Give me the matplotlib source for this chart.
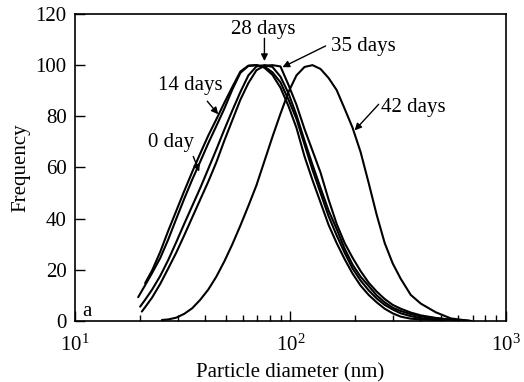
import matplotlib
matplotlib.use("Agg")
import matplotlib.pyplot as plt

plt.rcParams['font.family'] = ['Liberation Serif', 'DejaVu Serif']
plt.rcParams['mathtext.fontset'] = 'custom'
plt.rcParams['mathtext.rm'] = 'Liberation Serif'
plt.rcParams['mathtext.it'] = 'Liberation Serif:italic'

# ---- data ----
d0_x = [19.64, 21.16, 22.81, 24.86, 27.07, 29.50, 32.14, 35.01, 38.14, 41.56,
        45.27, 49.32, 53.74, 58.55, 63.78, 69.49, 75.71, 82.48, 89.85, 97.88,
        106.6, 116.2, 126.6, 137.9, 150.2, 163.7, 178.3, 194.2, 211.6, 230.5,
        251.2, 273.6, 298.1, 324.8, 361.5, 402.4, 472.5, 526.0]
d0_y = [9.3, 14.0, 18.8, 24.6, 31.8, 39.9, 47.8, 55.3, 62.3, 69.5,
        76.2, 83.0, 90.5, 97.0, 99.7, 100, 99.0, 96.2, 91.2, 84.0,
        75.5, 64.3, 55.0, 46.3, 37.6, 30.5, 24.2, 18.5, 13.8, 10.2,
        7.3, 4.8, 3.0, 1.7, 0.9, 0.6, 0.4, 0.3]

d14_x = [21.16, 22.81, 24.86, 27.07, 29.50, 32.14, 35.01, 38.14, 41.56,
         45.27, 49.32, 53.74, 58.55, 63.78, 69.49, 75.71, 82.48, 89.85, 97.88,
         106.6, 116.2, 126.6, 137.9, 150.2, 163.7, 178.3, 194.2, 211.6, 230.5,
         251.2, 273.6, 298.1, 324.8, 361.5, 402.4, 472.5, 526.0]
d14_y = [14.8, 19.8, 27.0, 35.2, 43.0, 50.8, 58.3, 65.5, 72.5,
         78.8, 85.3, 91.5, 97.5, 99.8, 100, 99.5, 97.2, 93.3, 86.5,
         79.0, 69.0, 59.0, 50.0, 41.0, 33.5, 26.7, 20.5, 15.8, 12.0,
         8.8, 6.3, 4.5, 3.0, 1.9, 1.1, 0.7, 0.5]

d28_x = [20.06, 21.16, 22.81, 24.86, 27.07, 29.50, 32.14, 35.01, 38.14, 41.56,
         45.27, 49.32, 53.74, 58.55, 63.78, 69.49, 75.71, 82.48, 89.85, 97.88,
         106.6, 116.2, 126.6, 137.9, 150.2, 163.7, 178.3, 194.2, 211.6, 230.5,
         251.2, 273.6, 298.1, 324.8, 361.5, 402.4, 472.5, 554.9, 687.4]
d28_y = [5.6, 8.3, 12.3, 17.6, 23.8, 30.8, 38.0, 45.0, 52.0, 59.5,
         67.0, 74.8, 82.3, 89.5, 96.0, 99.5, 100, 99.3, 95.5, 89.0,
         80.5, 70.5, 61.0, 52.0, 43.2, 36.0, 28.3, 22.0, 17.3, 13.7,
         10.0, 7.3, 5.2, 3.9, 2.7, 1.8, 1.1, 0.5, 0.0]

d35_x = [20.43, 21.16, 22.81, 24.86, 27.07, 29.50, 32.14, 35.01, 38.14, 41.56,
         45.27, 49.32, 53.74, 58.55, 63.78, 69.49, 75.71, 82.48, 89.85, 97.88,
         106.6, 116.2, 126.6, 137.9, 150.2, 163.7, 178.3, 194.2, 211.6, 230.5,
         251.2, 273.6, 298.1, 324.8, 361.5, 402.4, 472.5, 554.9, 687.4]
d35_y = [3.7, 5.4, 9.2, 14.5, 20.5, 26.7, 33.5, 40.5, 47.5, 54.5,
         62.0, 70.5, 78.5, 86.5, 93.0, 98.0, 99.8, 100, 99.5, 92.3,
         84.5, 75.0, 66.5, 58.0, 47.5, 38.0, 30.5, 24.7, 19.5, 15.0,
         11.5, 8.6, 6.3, 4.8, 3.3, 2.2, 1.2, 0.5, 0.0]

d42_x = [25.31, 27.07, 29.50, 32.14, 35.01, 38.14, 41.56, 45.27, 49.32, 53.74,
         58.55, 63.78, 69.49, 75.71, 82.48, 89.85, 97.88, 106.6, 116.2, 126.6,
         137.9, 150.2, 163.7, 178.3, 194.2, 211.6, 230.5, 251.2, 273.6, 298.1,
         324.8, 361.5, 402.4, 472.5, 554.9, 687.4]
d42_y = [0.4, 0.6, 1.3, 2.8, 5.0, 8.3, 12.3, 17.3, 23.3, 30.0,
         37.3, 45.0, 53.0, 62.5, 72.0, 81.0, 89.5, 96.0, 99.3, 100,
         98.5, 95.0, 90.3, 83.0, 75.5, 66.0, 54.0, 41.5, 30.5, 22.5,
         16.5, 10.2, 6.8, 3.4, 1.0, 0.0]

series = [(d0_x, d0_y), (d14_x, d14_y), (d28_x, d28_y), (d35_x, d35_y), (d42_x, d42_y)]

yticks = [0, 20, 40, 60, 80, 100, 120]

fig = plt.figure(figsize=(5.24, 3.82), dpi=100)
ax = fig.add_axes([0.1431, 0.1597, 0.8225, 0.8037])

for xs, ys in series:
    ax.plot(xs, ys, color='black', lw=1.5, solid_joinstyle='round',
            solid_capstyle='round')

ax.set_xscale('log')
ax.set_xlim(10, 1000)
ax.set_ylim(0, 120)
ax.set_yticks(yticks)
ax.set_yticklabels([str(v) for v in yticks])
ax.set_xticks([10, 100, 1000])
ax.set_xticklabels([r'$10^1$', r'$10^2$', r'$10^3$'])

ax.tick_params(axis='y', which='major', direction='in', length=7, width=1,
               labelsize=15, right=False, pad=6)
ax.tick_params(axis='x', which='major', direction='in', length=7, width=1,
               labelsize=15, top=False, pad=10)
ax.tick_params(axis='x', which='minor', direction='in', length=4, width=1,
               top=False)
for s in ax.spines.values():
    s.set_linewidth(1.2)

ax.set_xlabel('Particle diameter (nm)', fontsize=15, labelpad=5)
ax.set_ylabel('Frequency', fontsize=15, labelpad=4)

ap = dict(arrowstyle='-|>', color='black', lw=1.0, mutation_scale=10, shrinkA=0, shrinkB=0)
ax.annotate('', xy=(75.7, 101.6), xytext=(75.7, 110.5), arrowprops=ap)
ax.text(74.9, 114.1, '28 days', fontsize=15, ha='center', va='center')
ax.annotate('', xy=(91.8, 99.2), xytext=(145.5, 107.5), arrowprops=ap)
ax.text(153.5, 107.1, '35 days', fontsize=15, ha='left', va='center')
ax.annotate('', xy=(198.5, 74.5), xytext=(256.6, 84.7), arrowprops=ap)
ax.text(262.2, 83.5, '42 days', fontsize=15, ha='left', va='center')
ax.annotate('', xy=(46.2, 80.8), xytext=(41.1, 85.9), arrowprops=ap)
ax.text(34.3, 92.2, '14 days', fontsize=15, ha='center', va='center')
ax.annotate('', xy=(37.7, 58.4), xytext=(35.4, 64.3), arrowprops=ap)
ax.text(27.96, 69.8, '0 day', fontsize=15, ha='center', va='center')
ax.text(10.78, 3.9, 'a', fontsize=15, ha='left', va='center')

fig.savefig('out.png', dpi=100)
